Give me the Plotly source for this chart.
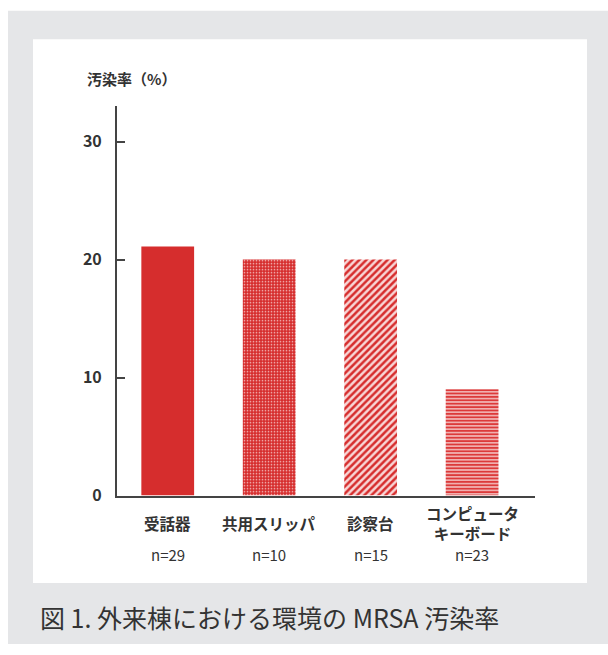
import plotly.graph_objects as go

categories = ["受話器", "共用スリッパ", "診察台", "コンピュータ<br>キーボード"]
values = [21.1, 20.0, 20.0, 9.0]
n_labels = ["n=29", "n=10", "n=15", "n=23"]
y_ticks = [0, 10, 20, 30]
y_title = "汚染率（%）"
caption = "図 1. 外来棟における環境の MRSA 汚染率"

W, H = 608, 655
FONT = "Noto Sans CJK JP"
RED = "#d62d2d"
TXT = "#333333"
AX = "#444444"
GRAY = "#e5e6e8"

def px(xp):
    return xp / W

def py(yp):
    return (H - yp) / H

patterns = [
    dict(shape=""),
    dict(shape=".", bgcolor=RED, fgcolor="#f3b8b8", size=3, solidity=0.25),
    dict(shape="/", bgcolor="#f8d6d6", fgcolor=RED, size=5, solidity=0.5),
    dict(shape="-", bgcolor="#f6cccc", fgcolor="#dc3a3a", size=3.4, solidity=0.6),
]

fig = go.Figure()
fig.add_trace(go.Bar(
    x=list(range(len(categories))),
    y=values,
    marker=dict(color=RED, line=dict(width=0), pattern=dict(
        shape=[p.get("shape", "") for p in patterns],
        bgcolor=[p.get("bgcolor", RED) for p in patterns],
        fgcolor=[p.get("fgcolor", RED) for p in patterns],
        size=[p.get("size", 8) for p in patterns],
        solidity=[p.get("solidity", 0.3) for p in patterns],
        fillmode="replace",
    )),
    width=0.52,
    hoverinfo="skip",
))

shapes = [
    dict(type="rect", xref="paper", yref="paper", x0=px(8), x1=1.0, y0=0, y1=py(11),
         fillcolor=GRAY, line=dict(width=0), layer="below"),
    dict(type="rect", xref="paper", yref="paper", x0=px(33), x1=px(587), y0=py(593), y1=py(40),
         fillcolor="#ffffff", line=dict(width=0), layer="below"),
]

annotations = []
for i, (c, n) in enumerate(zip(categories, n_labels)):
    annotations.append(dict(x=i, y=py(532), xref="x", yref="paper", text=c, showarrow=False,
                            xanchor="center", yanchor="middle",
                            font=dict(family=FONT, size=15.5, color=TXT, weight="bold")))
    annotations.append(dict(x=i, y=py(564), xref="x", yref="paper", text=n, showarrow=False,
                            xanchor="center", yanchor="middle",
                            font=dict(family=FONT, size=15, color=TXT)))
annotations.append(dict(x=px(85), y=py(80), xref="paper", yref="paper", text=y_title, showarrow=False,
                        xanchor="left", yanchor="middle",
                        font=dict(family=FONT, size=15, color=TXT, weight="bold")))
annotations.append(dict(x=px(38), y=py(628), xref="paper", yref="paper", text=caption, showarrow=False,
                        xanchor="left", yanchor="middle",
                        font=dict(family=FONT, size=25, color=TXT)))

fig.update_layout(
    width=W, height=H,
    margin=dict(l=0, r=0, t=0, b=0),
    paper_bgcolor="#ffffff",
    plot_bgcolor="rgba(0,0,0,0)",
    showlegend=False,
    shapes=shapes,
    annotations=annotations,
    xaxis=dict(domain=[px(117), px(535)], range=[-0.5, 3.62], showgrid=False, zeroline=False,
               showline=True, linecolor=AX, linewidth=2, showticklabels=False, ticks="",
               fixedrange=True),
    yaxis=dict(domain=[py(504), py(108)], range=[0, 33], showgrid=False, zeroline=False,
               showline=True, linecolor=AX, linewidth=2, tickmode="array", tickvals=y_ticks,
               ticks="inside", ticklen=8, tickwidth=2, tickcolor=AX, ticklabelstandoff=10,
               tickfont=dict(family=FONT, size=16, color=TXT, weight="bold"), fixedrange=True),
)

fig.write_html("out.html")
